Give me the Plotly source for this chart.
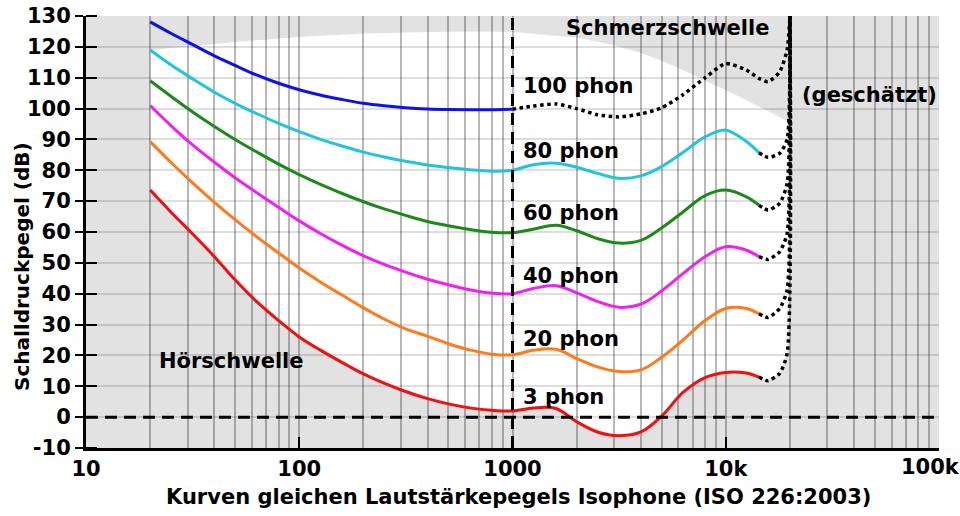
import plotly.graph_objects as go

# ---------------- data ----------------
freq_low = [20, 25, 31.5, 40, 50, 63, 80, 100, 125, 160, 200, 250, 315, 400, 500, 630, 800, 1000]
freq_high = [1250, 1600, 2000, 2500, 3150, 4000, 5000, 6300, 8000, 10000, 12500, 14300]
freq_ext = [14300, 15800, 17900, 19400, 20000]

phon100_low = [128.1, 124.4, 120.8, 117.1, 114.0, 110.9, 108.2, 106.1, 104.4, 102.9, 101.7, 100.9, 100.3, 99.9, 99.7, 99.6, 99.6, 99.8]
phon100_est_f = [1000, 1250, 1600, 2000, 2500, 3150, 4000, 5000, 6300, 8000, 10000, 12500, 14300, 15800, 17900, 19400, 20000]
phon100_est = [99.8, 100.8, 101.5, 100.0, 98.0, 97.3, 98.3, 100.2, 104.5, 110.0, 114.6, 112.5, 109.8, 108.7, 111.9, 119.0, 130.0]

phon80_low = [119.0, 114.2, 109.7, 105.3, 101.7, 98.4, 95.2, 92.5, 90.1, 87.8, 85.9, 84.3, 82.9, 81.7, 80.9, 80.2, 79.7, 80.0]
phon80_high = [81.8, 82.3, 81.0, 79.0, 77.4, 78.2, 81.2, 85.8, 90.8, 93.0, 89.3, 85.7]
phon80_ext = [85.7, 84.2, 85.5, 90.0, 130.0]

phon60_low = [109.0, 104.0, 99.0, 94.2, 90.0, 86.0, 82.0, 78.6, 75.5, 72.4, 69.8, 67.5, 65.4, 63.4, 62.0, 60.8, 59.9, 59.8]
phon60_high = [60.9, 62.2, 60.4, 57.9, 56.4, 57.3, 61.3, 66.5, 71.8, 73.6, 71.4, 68.7]
phon60_ext = [68.7, 67.1, 69.3, 75.7, 130.0]

phon40_low = [101.0, 94.5, 88.3, 82.6, 77.6, 72.8, 68.0, 63.6, 59.6, 55.6, 52.3, 49.5, 47.0, 44.7, 42.9, 41.3, 40.2, 40.0]
phon40_high = [41.7, 42.6, 40.3, 37.5, 35.6, 36.6, 40.9, 46.5, 52.0, 55.2, 54.1, 52.0]
phon40_ext = [52.0, 51.1, 53.6, 59.5, 130.0]

phon20_low = [89.3, 82.6, 76.0, 69.6, 64.0, 58.5, 53.2, 48.3, 43.9, 39.4, 35.4, 31.8, 28.6, 26.2, 23.8, 21.8, 20.4, 20.2]
phon20_high = [21.7, 22.0, 19.0, 16.3, 14.8, 15.3, 19.4, 25.0, 31.3, 35.2, 35.2, 33.5]
phon20_ext = [33.5, 32.3, 35.2, 41.2, 130.0]

phon3_low = [73.6, 66.5, 59.5, 52.0, 44.5, 37.5, 31.3, 26.0, 21.8, 17.6, 14.0, 11.0, 8.3, 6.0, 4.3, 3.0, 2.2, 2.0]
phon3_high = [3.0, 2.8, -1.5, -4.8, -6.0, -4.8, 0.3, 8.0, 12.8, 14.5, 14.3, 13.0]
phon3_ext = [13.0, 11.8, 14.2, 20.6, 130.0]

pain_f = [20, 50, 100, 200, 400, 700, 1000, 2000, 3000, 4000, 5000, 6300, 8000, 10000, 14000, 20000]
pain_db = [119.0, 121.6, 123.2, 124.3, 124.8, 125.0, 124.8, 123.0, 120.5, 118.0, 115.5, 112.5, 109.0, 106.0, 101.0, 95.5]

x_tickvals = [10, 100, 1000, 10000, 100000]
x_ticktext = ["10", "100", "1000", "10k", "100k"]
x_minor = [m * d for d in (10, 100, 1000, 10000) for m in range(2, 10)]
y_tickvals = list(range(-10, 131, 10))
y_ticktext = [str(v) for v in y_tickvals]

labels = ["100 phon", "80 phon", "60 phon", "40 phon", "20 phon", "3 phon"]
label_db = [107.3, 86.2, 66.1, 45.7, 25.3, 6.5]

# ---------------- figure ----------------
FONT = "DejaVu Sans"
fig = go.Figure()

solid = [
    (freq_low, phon100_low, "#1010e8"),
    (freq_low + freq_high, phon80_low + phon80_high, "#22c4dc"),
    (freq_low + freq_high, phon60_low + phon60_high, "#1a8a1a"),
    (freq_low + freq_high, phon40_low + phon40_high, "#f020f0"),
    (freq_low + freq_high, phon20_low + phon20_high, "#ff7a1a"),
    (freq_low + freq_high, phon3_low + phon3_high, "#f01010"),
]
for fx, fy, col in solid:
    fig.add_trace(go.Scatter(x=fx, y=fy, mode="lines",
                             line=dict(color=col, width=3, shape="spline", smoothing=1.0),
                             hoverinfo="skip"))

dotted = [
    (phon100_est_f, phon100_est),
    (freq_ext, phon80_ext),
    (freq_ext, phon60_ext),
    (freq_ext, phon40_ext),
    (freq_ext, phon20_ext),
    (freq_ext, phon3_ext),
]
for fx, fy in dotted:
    fig.add_trace(go.Scatter(x=fx, y=fy, mode="lines",
                             line=dict(color="black", width=3.5, dash="dot", shape="spline", smoothing=0.6),
                             hoverinfo="skip"))

# reference dashed lines
fig.add_trace(go.Scatter(x=[x_tickvals[0], x_tickvals[-1]], y=[0, 0], mode="lines",
                         line=dict(color="black", width=3, dash="12px,7px"), hoverinfo="skip"))
fig.add_trace(go.Scatter(x=[1000, 1000], y=[y_tickvals[0], y_tickvals[-1]], mode="lines",
                         line=dict(color="black", width=3, dash="12px,7px"), hoverinfo="skip"))

# white audible region (between hearing threshold curve and pain threshold)
low_f = freq_low + freq_high + freq_ext[1:-1]
low_v = phon3_low + phon3_high + phon3_ext[1:-1]
pts = list(zip(low_f, low_v)) + list(zip(pain_f[::-1], pain_db[::-1]))
path = "M " + " L ".join(f"{f},{v}" for f, v in pts) + " Z"
fig.add_shape(type="path", path=path, xref="x", yref="y", layer="below",
              fillcolor="white", line=dict(width=0))

ann_font = dict(family=FONT, size=21, color="black", weight="bold")
for t, yv in zip(labels, label_db):
    fig.add_annotation(x=3.04, y=yv, text=t, showarrow=False, xanchor="left", yanchor="middle", font=ann_font)
fig.add_annotation(x=3.729, y=126.0, text="Schmerzschwelle", showarrow=False, xanchor="center", yanchor="middle", font=ann_font)
fig.add_annotation(x=1.333, y=18.1, text="Hörschwelle", showarrow=False, xanchor="left", yanchor="middle", font=ann_font)
fig.add_annotation(x=4.348, y=104.3, text="(geschätzt)", showarrow=False, xanchor="left", yanchor="middle", font=ann_font)

# last x tick label: drawn nudged left so that it stays inside the page (as in the reference)
fig.add_annotation(x=5, yref="paper", y=-0.044, text=x_ticktext[-1], showarrow=False,
                   xanchor="center", yanchor="middle", xshift=-9, font=ann_font)

# axis titles as annotations (reference places them slightly off-centre)
fig.add_annotation(xref="paper", yref="paper", x=0.507, y=-0.113, xanchor="center", yanchor="middle",
                   text="Kurven gleichen Lautstärkepegels Isophone (ISO 226:2003)", showarrow=False,
                   font=dict(family=FONT, size=21, color="black", weight="bold"))
fig.add_annotation(xref="paper", yref="paper", x=-0.075, y=0.419, xanchor="center", yanchor="middle",
                   text="Schalldruckpegel (dB)", showarrow=False, textangle=-90,
                   font=dict(family=FONT, size=20, color="black", weight="bold"))

fig.update_layout(
    width=960, height=516,
    margin=dict(l=86, r=21, t=16, b=68, autoexpand=False),
    paper_bgcolor="white", plot_bgcolor="#e2e2e2",
    showlegend=False,
    font=dict(family=FONT, color="black", weight="bold"),
)
fig.update_xaxes(
    type="log", range=[0.99999, 5.00001], automargin=False,
    tickvals=x_tickvals, ticktext=x_ticktext[:-1] + [""],
    ticks="inside", ticklen=11, tickwidth=2, tickcolor="black",
    showline=True, linecolor="black", linewidth=3,
    showgrid=True, gridcolor="rgba(0,0,0,0.28)", gridwidth=1.5,
    minor=dict(tickvals=x_minor, showgrid=True, gridcolor="rgba(0,0,0,0.28)", gridwidth=1.5, ticks=""),
    zeroline=False,
    tickfont=dict(family=FONT, size=21, weight="bold"),
)
fig.update_yaxes(
    range=[-10, 130], automargin=False,
    tickvals=y_tickvals, ticktext=y_ticktext,
    ticks="outside", ticklen=8, tickwidth=2, tickcolor="black",
    showline=True, linecolor="black", linewidth=3,
    showgrid=True, gridcolor="rgba(0,0,0,0.13)", gridwidth=1.5,
    minor=dict(tickvals=[v + 0.001 for v in y_tickvals], ticks="inside", ticklen=11,
               tickwidth=2, tickcolor="black", showgrid=False),
    zeroline=False,
    tickfont=dict(family=FONT, size=21, weight="bold"),
)

fig.write_html("out.html")
